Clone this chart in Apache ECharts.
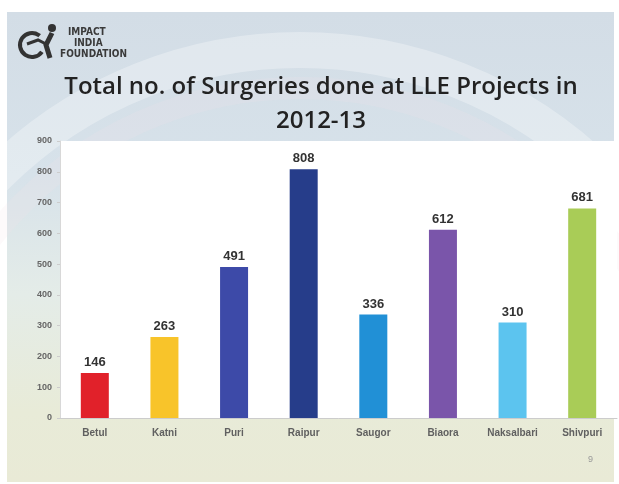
<!DOCTYPE html>
<html><head><meta charset="utf-8">
<script src="https://cdn.jsdelivr.net/npm/echarts@6/dist/echarts.min.js"></script>
<style>html,body{margin:0;padding:0;background:#fff;}#c{width:619px;height:484px;}</style>
</head><body><div id="c"></div>
<script>
const categories = ['Betul','Katni','Puri','Raipur','Saugor','Biaora','Naksalbari','Shivpuri'];
const surgeries = [146, 263, 491, 808, 336, 612, 310, 681];
const barColors = ['#e1212a','#f8c42a','#3d4aa8','#263d8a','#2190d6','#7a55aa','#5cc4ef','#a9cc57'];
const yTicks = [0,100,200,300,400,500,600,700,800,900];

const chart = echarts.init(document.getElementById('c'));
chart.setOption({
  backgroundColor: '#ffffff',
  animation: false,
  graphic: [
    { type:'rect', z:-10, shape:{x:7,y:12,width:607,height:470},
      style:{ fill: new echarts.graphic.LinearGradient(0,0,0,1,[
        {offset:0,color:'#d3dde6'},{offset:0.35,color:'#d7e2ea'},{offset:0.6,color:'#e4ece8'},{offset:0.85,color:'#e8ebd8'},{offset:1,color:'#e9ead6'}]) } },
    { type:'circle', z:-9, shape:{cx:300,cy:480,r:430}, style:{fill:'none',stroke:'rgba(255,255,255,0.3)',lineWidth:36} },
    { type:'circle', z:-9, shape:{cx:300,cy:480,r:392}, style:{fill:'none',stroke:'rgba(245,225,235,0.18)',lineWidth:22} },
    { type:'text', left:68, top:27, style:{text:'IMPACT', font:'bold 10px "DejaVu Sans Condensed", sans-serif', fill:'#3a3a3a'} },
    { type:'text', left:74, top:38, style:{text:'INDIA', font:'bold 10px "DejaVu Sans Condensed", sans-serif', fill:'#3a3a3a'} },
    { type:'text', left:60, top:49, style:{text:'FOUNDATION', font:'bold 10px "DejaVu Sans Condensed", sans-serif', fill:'#3a3a3a'} },
    { type:'arc', shape:{cx:32,cy:45,r:12,startAngle:0.6,endAngle:5.4}, style:{fill:'none',stroke:'#333',lineWidth:4} },
    { type:'circle', shape:{cx:52,cy:28,r:4}, style:{fill:'#333'} },
    { type:'polyline', shape:{points:[[52,33],[46,45],[50,58]]}, style:{fill:'none',stroke:'#333',lineWidth:5} },
    { type:'polyline', shape:{points:[[27,44],[38,40],[46,44]]}, style:{fill:'none',stroke:'#333',lineWidth:3} },
    { type:'text', left:588, top:455, style:{text:'9', font:'9px sans-serif', fill:'#999'} }
  ],
  title: {
    text: 'Total no. of Surgeries done at LLE Projects in\n2012-13',
    left: 316, top: 65, textAlign: 'center',
    textStyle: { fontFamily:'"Open Sans", sans-serif', fontWeight: 600, fontSize: 24, color:'#222', lineHeight: 34 }
  },
  grid: { left: 60, right: 2, top: 141, bottom: 66, show: true, backgroundColor:'#ffffff', borderWidth:0 },
  xAxis: {
    type:'category', data: categories,
    axisLine:{show:true, lineStyle:{color:'#cccccc'}},
    axisTick:{show:false},
    axisLabel:{ color:'#606060', fontWeight:'bold', fontSize:10, fontFamily:'Arial, sans-serif', margin:10 }
  },
  yAxis: {
    type:'value', min: yTicks[0], max: yTicks[yTicks.length-1], interval: 100,
    axisLine:{show:true, lineStyle:{color:'#d8d8d8'}},
    axisTick:{show:true, length:3, lineStyle:{color:'#cccccc'}},
    splitLine:{show:false},
    axisLabel:{ color:'#666', fontWeight:'bold', fontSize:9, fontFamily:'Arial, sans-serif', margin:8 }
  },
  series: [{
    type:'bar', data: surgeries.map((v,i)=>({value:v, itemStyle:{color:barColors[i]}})),
    barWidth: 28,
    label:{ show:true, position:'top', color:'#333', fontWeight:'bold', fontSize:13, fontFamily:'Arial, sans-serif', distance:4 }
  }]
});
</script></body></html>
